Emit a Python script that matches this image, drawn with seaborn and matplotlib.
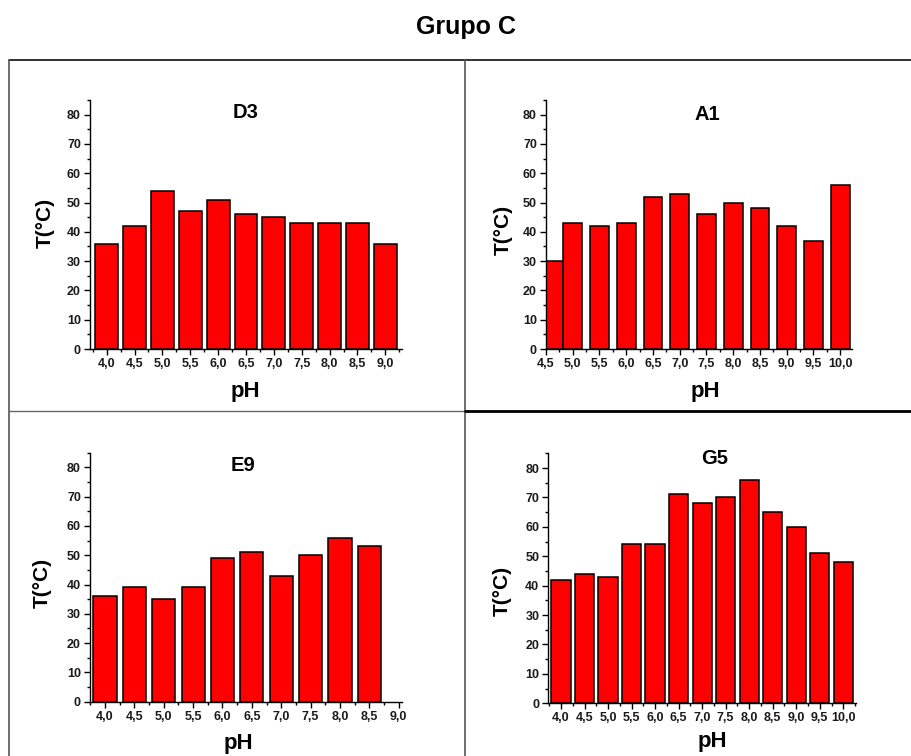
import numpy as np
import pandas as pd
import matplotlib
matplotlib.use("Agg")
import matplotlib.pyplot as plt
from matplotlib.lines import Line2D
from matplotlib.ticker import MultipleLocator, FuncFormatter
import seaborn as sns

# --- data: temperature (°C) versus pH for each isolate of group C ---
d3_ph = [4.0, 4.5, 5.0, 5.5, 6.0, 6.5, 7.0, 7.5, 8.0, 8.5, 9.0]
d3_t = [36, 42, 54, 47, 51, 46, 45, 43, 43, 43, 36]

a1_ph = [4.5, 5.0, 5.5, 6.0, 6.5, 7.0, 7.5, 8.0, 8.5, 9.0, 9.5, 10.0]
a1_t = [30, 43, 42, 43, 52, 53, 46, 50, 48, 42, 37, 56]

e9_ph = [4.0, 4.5, 5.0, 5.5, 6.0, 6.5, 7.0, 7.5, 8.0, 8.5]
e9_t = [36, 39, 35, 39, 49, 51, 43, 50, 56, 53]

g5_ph = [4.0, 4.5, 5.0, 5.5, 6.0, 6.5, 7.0, 7.5, 8.0, 8.5, 9.0, 9.5, 10.0]
g5_t = [42, 44, 43, 54, 54, 71, 68, 70, 76, 65, 60, 51, 48]

sns.set_style("ticks")
plt.rcParams["font.family"] = ["Liberation Sans", "DejaVu Sans"]
plt.rcParams["font.weight"] = "bold"

W, H = 911, 756
fig = plt.figure(figsize=(W / 100, H / 100), dpi=100)
fig.patch.set_facecolor("white")


def px_axes(left, right, top, bottom):
    return fig.add_axes([left / W, 1 - bottom / H, (right - left) / W, (bottom - top) / H])


panels = [
    # name, ph, temps, axes box (px), xlim, bar width, title pos, ylabel pos, xlabel pos
    ("D3", d3_ph, d3_t, (90, 402, 100, 349), (3.7, 9.3), 0.82, (0.50, 0.948), (45, 223), (245, 392)),
    ("A1", a1_ph, a1_t, (546, 852, 100, 349), (4.5, 10.22), 0.70, (0.526, 0.94), (503, 230), (705, 392)),
    ("E9", e9_ph, e9_t, (90, 401.7, 452.7, 701.7), (3.745, 9.05), 0.79, (0.49, 0.95), (42, 583), (238, 743)),
    ("G5", g5_ph, g5_t, (548.3, 856, 453.3, 703.3), (3.73, 10.27), 0.82, (0.54, 0.98), (502, 591), (712, 742)),
]

tick_color = "#1a1a1a"
comma = FuncFormatter(lambda v, pos: f"{v:.1f}".replace(".", ","))

for name, ph, temps, box, xlim, bw, tpos, ylpos, xlpos in panels:
    ax = px_axes(*box)
    df = pd.DataFrame({"pH": ph, "T": temps})
    sns.barplot(data=df, x="pH", y="T", native_scale=True, color="#ff0000",
                saturation=1, edgecolor="black", linewidth=1.1, width=bw, ax=ax)
    if name == "A1":
        # the first bar starts right at the axis origin and meets its neighbour
        p0, p1 = ax.patches[0], ax.patches[1]
        p0.set_x(ph[0])
        p0.set_width(p1.get_x() - ph[0])
    ax.set_xlim(*xlim)
    ax.set_ylim(0, 85)
    ax.set_xlabel("")
    ax.set_ylabel("")
    sns.despine(ax=ax)
    for s in ("left", "bottom"):
        ax.spines[s].set_linewidth(1.0)
        ax.spines[s].set_color("black")
    ax.xaxis.set_major_locator(MultipleLocator(0.5))
    ax.xaxis.set_minor_locator(MultipleLocator(0.25))
    ax.xaxis.set_major_formatter(comma)
    ax.yaxis.set_major_locator(MultipleLocator(10))
    ax.yaxis.set_minor_locator(MultipleLocator(5))
    ax.tick_params(axis="both", which="major", direction="out", length=4, width=1,
                   labelsize=9, colors="black", labelcolor=tick_color, pad=2.5)
    ax.tick_params(axis="both", which="minor", direction="out", length=2, width=1,
                   colors="black")
    for lab in ax.get_xticklabels() + ax.get_yticklabels():
        lab.set_fontweight("bold")
    ax.text(tpos[0], tpos[1], name, transform=ax.transAxes, ha="center", va="center",
            fontsize=14.5, fontweight="bold", color="black")
    fig.text(ylpos[0] / W, 1 - ylpos[1] / H, "T(°C)", rotation=90, ha="center", va="center",
             fontsize=15, fontweight="bold", color="black")
    fig.text(xlpos[0] / W, 1 - xlpos[1] / H, "pH", ha="center", va="center",
             fontsize=16, fontweight="bold", color="black")

# overall heading
fig.text(466 / W, 1 - 27 / H, "Grupo C", ha="center", va="center",
         fontsize=18, fontweight="bold", color="black")


# table-like frame around the four panels
def hline(y, x0, x1, color, lw):
    fig.add_artist(Line2D([x0 / W, x1 / W], [1 - y / H, 1 - y / H], color=color, lw=lw))


def vline(x, y0, y1, color, lw):
    fig.add_artist(Line2D([x / W, x / W], [1 - y0 / H, 1 - y1 / H], color=color, lw=lw))


hline(60, 9, 911, "#222222", 1.3)
vline(9, 60, 756, "#555555", 1.2)
vline(465, 60, 756, "#555555", 1.2)
hline(411, 9, 465, "#666666", 1.0)
hline(411, 465, 911, "#000000", 2.0)

fig.savefig("out.png", dpi=100, facecolor="white")
